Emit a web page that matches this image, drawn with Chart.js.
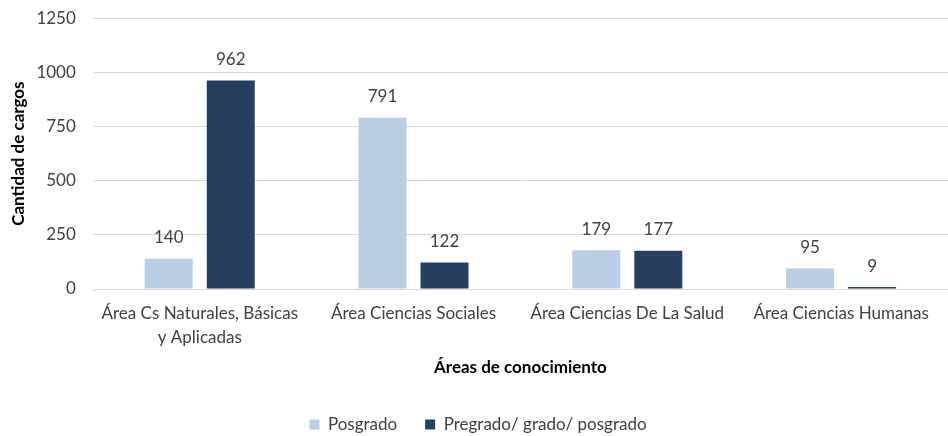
<!DOCTYPE html>
<html><head><meta charset="utf-8">
<script src="https://cdn.jsdelivr.net/npm/chart.js@4"></script>
<style>html,body{margin:0;padding:0;background:#fff;overflow:hidden;width:948px;height:436px}
#w{position:absolute;left:0;top:-9px;width:948px;height:452px}</style>
</head><body><div id="w"><canvas id="c"></canvas></div>
<script>
const categories = [["Área Cs Naturales, Básicas","y Aplicadas"],"Área Ciencias Sociales","Área Ciencias De La Salud","Área Ciencias Humanas"];
const seriesNames = ["Posgrado","Pregrado/ grado/ posgrado"];
const posgrado = [140,791,179,95];
const pregrado = [962,122,177,9];
const yTicks = [0,250,500,750,1000,1250];

const FONT = "Lato, 'Liberation Sans', sans-serif";
const labelPlugin = {
  id:'vals',
  afterDatasetsDraw(chart){
    const ctx = chart.ctx;
    ctx.save();
    ctx.font = "17px " + FONT;
    ctx.fillStyle = "#404040";
    ctx.textAlign = "center";
    ctx.textBaseline = "middle";
    chart.data.datasets.forEach((ds,i)=>{
      chart.getDatasetMeta(i).data.forEach((bar,j)=>{
        ctx.fillText(String(ds.data[j]), bar.x, bar.y - 21);
      });
    });
    ctx.restore();
  }
};
new Chart(document.getElementById('c'),{
  type:'bar',
  data:{labels:categories,datasets:[
    {label:seriesNames[0],data:posgrado,backgroundColor:"#B9CDE5",categoryPercentage:0.58,barPercentage:0.774},
    {label:seriesNames[1],data:pregrado,backgroundColor:"#254061",categoryPercentage:0.58,barPercentage:0.774}
  ]},
  options:{
    responsive:true,maintainAspectRatio:false,animation:false,
    layout:{padding:{top:-3,right:0,left:8,bottom:0}},
    plugins:{
      tooltip:{enabled:false},
      legend:{position:'bottom',labels:{font:{family:FONT,size:17},color:"#404040",boxWidth:10,boxHeight:10,padding:28}},
    },
    scales:{
      x:{grid:{display:false},border:{color:"#d9d9d9"},
        ticks:{font:{family:FONT,size:17,lineHeight:1.4},color:"#404040",padding:5,maxRotation:0,autoSkip:false},
        title:{display:true,text:"Áreas de conocimiento",font:{family:FONT,size:17,weight:'bold'},color:"#000",padding:{top:3,bottom:10}}},
      y:{min:0,max:1250,afterBuildTicks(a){a.ticks=yTicks.map(v=>({value:v}));},
        grid:{color:"#d9d9d9",drawTicks:false},border:{display:false},
        ticks:{font:{family:FONT,size:17},color:"#404040",padding:17,callback:v=>String(v)},
        title:{display:true,text:"Cantidad de cargos",font:{family:FONT,size:17,weight:'bold'},color:"#000",padding:{top:0,bottom:-9}}}
    }
  },
  plugins:[labelPlugin]
});
</script></body></html>
